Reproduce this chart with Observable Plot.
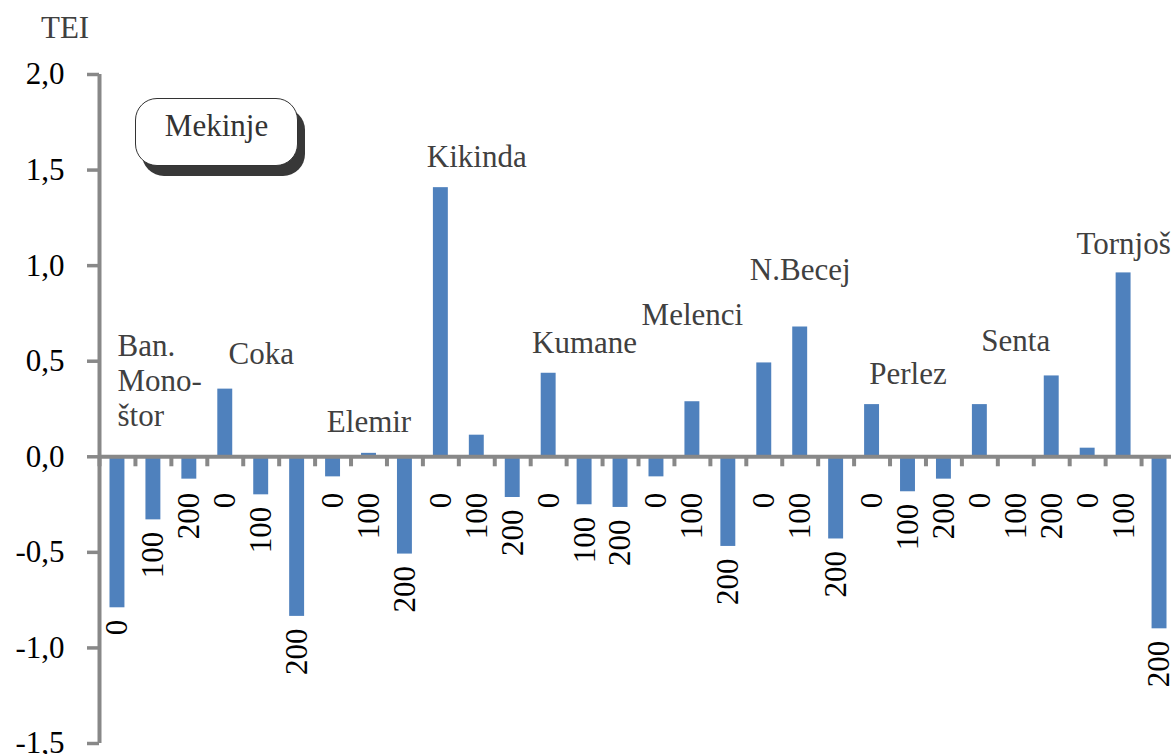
<!DOCTYPE html>
<html>
<head>
<meta charset="utf-8">
<script src="https://cdn.jsdelivr.net/npm/d3@7"></script>
<script src="https://cdn.jsdelivr.net/npm/@observablehq/plot@0.6"></script>
<style>
  html, body { margin: 0; padding: 0; background: #fff; overflow: hidden; }
  #wrap { position: relative; width: 1171px; height: 754px; overflow: hidden; }
  #tei { position: absolute; left: 41px; top: 12px; font-size: 31px; line-height: 31px; font-family: "Liberation Serif", "Tinos", "DejaVu Serif", serif; color: #404040; }
  #box { position: absolute; left: 135px; top: 98px; width: 163px; height: 68px; box-sizing: border-box;
         border: 1.5px solid #333; border-radius: 22px; background: #fff; box-shadow: 7px 10px 0 #383838;
         font-size: 31px; font-family: "Liberation Serif", "Tinos", "DejaVu Serif", serif; line-height: 53px; text-align: center; color: #333; }
</style>
</head>
<body>
<div id="wrap">
  <div id="chart"></div>
  <div id="tei">TEI</div>
  <div id="box">Mekinje</div>
</div>
<script>
// ---- data ----
const locations = ["Ban.\nMono-\nštor", "Coka", "Elemir", "Kikinda", "Kumane", "Melenci", "N.Becej", "Perlez", "Senta", "Tornjoš"];
const doses = ["0", "100", "200"];
const tei0   = [-0.79,  0.354, -0.105,  1.408,  0.437, -0.105,  0.491,  0.273,  0.273, 0.045];
const tei100 = [-0.33, -0.199,  0.018,  0.113, -0.251,  0.288,  0.679, -0.183,  0.0,   0.962];
const tei200 = [-0.117,-0.835, -0.509, -0.213, -0.265, -0.469, -0.43,  -0.117,  0.423, -0.9];
// TEI level at which each location name sits (baseline of its last line)
const labelAt = [0.162, 0.488, 0.129, 1.515, 0.542, 0.687, 0.923, 0.383, 0.556, 1.059];
const yTicks = [-1.5, -1.0, -0.5, 0.0, 0.5, 1.0, 1.5, 2.0];

// ---- build tables ----
const series = [tei0, tei100, tei200];
const rows = [];
locations.forEach((loc, i) => doses.forEach((d, j) => rows.push({key: `${i}-${j}`, loc, dose: d, value: series[j][i]})));
const locRows = locations.map((loc, i) => ({i, loc, at: labelAt[i]}));

// ---- layout ----
const W = 1171, H = 754, mt = 74, mb = 11, ml = 99, mr = -6;
const k = (H - mt - mb) / (yTicks[yTicks.length - 1] - yTicks[0]);   // px per TEI unit
const step = (W - mr - ml) / rows.length;
const gray = "#888888";
const serif = "'Liberation Serif', Tinos, 'DejaVu Serif', serif";

const plot = Plot.plot({
  width: W, height: H,
  marginTop: mt, marginBottom: mb, marginLeft: ml, marginRight: mr,
  style: {fontFamily: serif, background: "transparent", overflow: "visible"},
  x: {type: "band", domain: rows.map(r => r.key), padding: 0, round: false, axis: null},
  y: {domain: [yTicks[0], yTicks[yTicks.length - 1]], axis: null},
  marks: [
    Plot.barY(rows, {x: "key", y: "value", fill: "#4F81BD", insetLeft: 10.5, insetRight: 10.5}),
    Plot.ruleY([0], {stroke: gray, strokeWidth: 4}),
    Plot.ruleX(rows, {x: "key", y1: 0, y2: -10 / k, dx: -step / 2, stroke: gray, strokeWidth: 4}),
    Plot.ruleX([rows[0].key], {x: d => d, y1: yTicks[0], y2: yTicks[yTicks.length - 1], dx: -step / 2, stroke: gray, strokeWidth: 4}),
    Plot.axisY({
      ticks: yTicks, tickSize: 12, tickPadding: 23, stroke: gray, strokeWidth: 3.5,
      fill: "black", fontSize: 31, fontFamily: serif, label: null,
      tickFormat: d => d.toFixed(1).replace(".", ",")
    }),
    // dose labels, rotated, under each bar
    Plot.text(rows, {
      x: "key",
      y: r => Math.min(-36 / k, Math.min(r.value, 0) - 12 / k),
      text: "dose", rotate: -90, textAnchor: "end", fontSize: 31, fontFamily: serif, fill: "black"
    }),
    // location names
    Plot.text(locRows.slice(0, 1), {
      x: r => `${r.i}-0`, y: "at", text: "loc", textAnchor: "start", lineAnchor: "bottom",
      lineHeight: 1.13, fontSize: 31, fontFamily: serif, fill: "#404040"
    }),
    Plot.text(locRows.slice(1), {
      x: r => `${r.i}-1`, y: "at", text: "loc", textAnchor: "middle", lineAnchor: "bottom",
      fontSize: 31, fontFamily: serif, fill: "#404040"
    })
  ]
});
document.getElementById("chart").appendChild(plot);
</script>
</body>
</html>
